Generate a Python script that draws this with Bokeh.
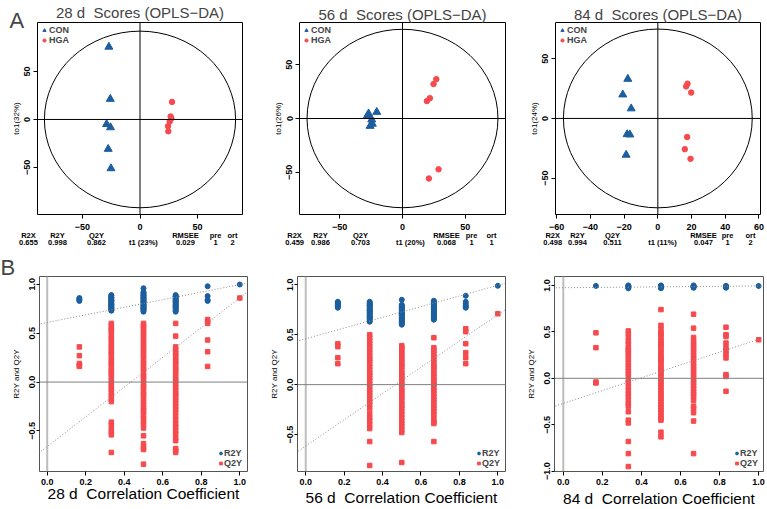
from bokeh.plotting import figure
from bokeh.models import Range1d, Span, Slope, Legend, LegendItem, FixedTicker, LinearAxis, Title
from bokeh.layouts import column, row
from bokeh.embed import file_html
from bokeh.resources import INLINE

BLUE = "#1C5E9E"
RED = "#F64A4E"
FONT = "Liberation Sans"
MINUS = "\u2212"
NBSP = "\u00a0"

# ---------------- Scores (OPLS-DA) data ----------------
days = ["28 d", "56 d", "84 d"]
con_t1 = [
    [-27.0, -25.8, -29.0, -25.6, -27.6, -25.2],
    [-28.0, -27.0, -20.5, -24.5, -25.8, -24.0],
    [-17.8, -20.8, -15.8, -18.2, -16.6, -18.8],
]
con_to1 = [
    [75.6, 21.3, -4.9, -8.3, -30.8, -51.0],
    [2.5, 4.5, 6.0, -1.0, -7.0, -5.0],
    [33.1, 20.0, 8.3, -13.3, -13.6, -30.6],
]
hga_t1 = [
    [27.8, 26.6, 27.2, 25.8, 24.3, 24.6],
    [26.9, 24.7, 21.8, 19.4, 28.7, 21.0],
    [17.6, 16.8, 19.8, 17.4, 16.0, 19.4],
]
hga_to1 = [
    [18.3, 3.1, 1.1, -2.2, -7.0, -12.3],
    [36.6, 32.0, 18.9, 16.2, -47.3, -55.8],
    [29.2, 26.9, 21.7, -15.6, -25.8, -33.9],
]
ellipse_rx = [83, 76, 56]
ellipse_ry = [92, 83, 75]
t1_pct = [23, 20, 11]
to1_pct = [32, 26, 24]
r2x = ["0.655", "0.459", "0.498"]
r2y = ["0.998", "0.986", "0.994"]
q2y = ["0.862", "0.703", "0.511"]
rmsee = ["0.029", "0.068", "0.047"]
pre = ["1", "1", "1"]
ort = ["2", "1", "2"]
score_xticks = [[-50, 0, 50], [-50, 0, 50], [-60, -40, -20, 0, 20, 40, 60]]
score_yticks = [[-50, 0, 50], [-50, 0, 50], [-50, 0, 50]]

# ---------------- Permutation data ----------------
perm_x = [0.167, 0.333, 0.5, 0.667, 0.833, 1.0]
perm_r2y = [
    [  # 28 d
        [0.86, 0.85, 0.84, 0.83],
        [0.89, 0.885, 0.87, 0.865, 0.86, 0.85, 0.84, 0.835, 0.83, 0.82, 0.81, 0.80, 0.795, 0.79, 0.78, 0.77, 0.765, 0.76, 0.75, 0.74, 0.735, 0.73],
        [0.96, 0.92, 0.91, 0.905, 0.89, 0.885, 0.88, 0.87, 0.86, 0.855, 0.85, 0.84, 0.83, 0.825, 0.82, 0.81, 0.80, 0.79, 0.785, 0.78, 0.77, 0.76, 0.755, 0.75, 0.74, 0.73, 0.72],
        [0.89, 0.88, 0.875, 0.87, 0.86, 0.85, 0.84, 0.83, 0.825, 0.82, 0.81, 0.80, 0.79, 0.78, 0.775, 0.77, 0.76, 0.75, 0.74, 0.73, 0.72],
        [0.98, 0.88, 0.84, 0.83],
        [0.998],
    ],
    [  # 56 d
        [0.83, 0.82, 0.81, 0.80, 0.79, 0.78, 0.77],
        [0.83, 0.82, 0.81, 0.80, 0.795, 0.79, 0.78, 0.77, 0.76, 0.75, 0.745, 0.74, 0.73, 0.72, 0.71, 0.70, 0.69, 0.68, 0.675, 0.67, 0.66, 0.65, 0.64, 0.63],
        [0.85, 0.80, 0.79, 0.78, 0.77, 0.765, 0.76, 0.75, 0.74, 0.73, 0.72, 0.71, 0.705, 0.70, 0.69, 0.68, 0.67, 0.66, 0.65, 0.64, 0.63, 0.62, 0.61, 0.60],
        [0.84, 0.83, 0.82, 0.81, 0.80, 0.79, 0.78, 0.775, 0.77, 0.76, 0.75, 0.74, 0.73, 0.72, 0.71, 0.70, 0.69, 0.68, 0.67, 0.66, 0.65],
        [0.89, 0.83, 0.81, 0.79, 0.78, 0.77],
        [0.99],
    ],
    [  # 84 d
        [0.995],
        [1.0, 0.995, 0.99, 0.985, 0.98, 0.975, 0.97],
        [1.0, 0.995, 0.99, 0.985, 0.98, 0.975, 0.97],
        [1.0, 0.995, 0.99, 0.985, 0.98, 0.975],
        [0.995, 0.99, 0.985, 0.98, 0.975],
        [0.994],
    ],
]
perm_q2y = [
    [  # 28 d
        [0.36, 0.27, 0.19, 0.17, 0.16],
        [0.60, 0.58, 0.55, 0.53, 0.51, 0.48, 0.45, 0.43, 0.40, 0.37, 0.35, 0.32, 0.30, 0.28, 0.25, 0.22, 0.20, 0.18, 0.15, 0.12, 0.10, 0.08, 0.05, 0.02, -0.01, -0.03, -0.06, -0.08, -0.11, -0.14, -0.17, -0.20, -0.41, -0.44, -0.48, -0.51, -0.54, -0.72],
        [0.60, 0.58, 0.56, 0.54, 0.51, 0.49, 0.46, 0.44, 0.41, 0.38, 0.36, 0.33, 0.31, 0.28, 0.26, 0.23, 0.20, 0.18, 0.15, 0.13, 0.10, 0.07, 0.05, 0.02, -0.01, -0.04, -0.06, -0.09, -0.12, -0.14, -0.17, -0.20, -0.23, -0.26, -0.29, -0.31, -0.34, -0.37, -0.40, -0.43, -0.47, -0.55, -0.63, -0.67, -0.69, -0.84],
        [0.60, 0.47, 0.36, 0.33, 0.30, 0.28, 0.25, 0.22, 0.20, 0.17, 0.14, 0.12, 0.09, 0.06, 0.03, 0.01, -0.02, -0.05, -0.08, -0.11, -0.13, -0.16, -0.19, -0.22, -0.25, -0.28, -0.31, -0.35, -0.39, -0.43, -0.46, -0.50, -0.53, -0.57, -0.60, -0.68, -0.70, -0.72],
        [0.64, 0.62, 0.60, 0.43, 0.31, 0.16],
        [0.86],
    ],
    [  # 56 d
        [0.41, 0.38, 0.27, 0.21],
        [0.50, 0.47, 0.44, 0.41, 0.38, 0.35, 0.32, 0.29, 0.26, 0.24, 0.21, 0.18, 0.15, 0.12, 0.10, 0.07, 0.04, 0.01, -0.02, -0.05, -0.08, -0.11, -0.14, -0.17, -0.20, -0.24, -0.29, -0.33, -0.36, -0.40, -0.44, -0.57, -0.81],
        [0.39, 0.37, 0.35, 0.32, 0.30, 0.27, 0.25, 0.22, 0.20, 0.18, 0.15, 0.12, 0.10, 0.07, 0.05, 0.02, 0.00, -0.03, -0.06, -0.08, -0.11, -0.13, -0.16, -0.19, -0.21, -0.24, -0.27, -0.30, -0.33, -0.36, -0.39, -0.42, -0.45, -0.48, -0.78],
        [0.47, 0.37, 0.34, 0.31, 0.28, 0.25, 0.22, 0.19, 0.17, 0.14, 0.11, 0.08, 0.05, 0.03, 0.00, -0.03, -0.06, -0.09, -0.12, -0.15, -0.18, -0.21, -0.24, -0.27, -0.30, -0.34, -0.37, -0.39, -0.57],
        [0.56, 0.53, 0.41, 0.32, 0.27, 0.21],
        [0.71],
    ],
    [  # 84 d
        [0.49, 0.33, -0.04, -0.05],
        [0.51, 0.48, 0.44, 0.40, 0.37, 0.33, 0.31, 0.29, 0.26, 0.23, 0.20, 0.17, 0.14, 0.11, 0.08, 0.05, 0.02, -0.02, -0.05, -0.09, -0.13, -0.17, -0.20, -0.24, -0.27, -0.30, -0.36, -0.45, -0.48, -0.68, -0.81, -0.95],
        [0.74, 0.57, 0.53, 0.49, 0.47, 0.44, 0.41, 0.38, 0.36, 0.33, 0.30, 0.27, 0.24, 0.21, 0.19, 0.16, 0.13, 0.10, 0.08, 0.05, 0.02, -0.01, -0.04, -0.07, -0.10, -0.13, -0.16, -0.19, -0.22, -0.25, -0.28, -0.31, -0.34, -0.37, -0.40, -0.43, -0.45, -0.58, -0.63],
        [0.69, 0.54, 0.44, 0.40, 0.37, 0.34, 0.31, 0.28, 0.25, 0.22, 0.19, 0.16, 0.13, 0.10, 0.07, 0.04, 0.01, -0.02, -0.05, -0.08, -0.11, -0.14, -0.17, -0.20, -0.24, -0.30, -0.33, -0.37, -0.46, -0.81],
        [0.55, 0.47, 0.45, 0.38, 0.33, 0.30, 0.26, 0.22, 0.04, 0.02, -0.14],
        [0.415],
    ],
]
# regression lines: intercept at x=0 and value at x=1
r2y_line = [(0.61, 0.998), (0.46, 0.995), (0.975, 0.994)]
q2y_line = [(-0.66, 0.862), (-0.615, 0.70), (-0.27, 0.42)]
perm_xticks = [0.0, 0.2, 0.4, 0.6, 0.8, 1.0]
perm_yticks = [[-0.5, 0.0, 0.5, 1.0], [-0.5, 0.0, 0.5, 1.0], [-1.0, -0.5, 0.0, 0.5, 1.0]]


def fmt(v, nd):
    s = f"{v:.{nd}f}" if nd else f"{int(v)}"
    return s.replace("-", MINUS)


def style_axes(p, xticks, yticks, nd):
    p.xaxis.ticker = FixedTicker(ticks=xticks)
    p.yaxis.ticker = FixedTicker(ticks=yticks)
    p.xaxis.major_label_overrides = {t: fmt(t, nd) for t in xticks}
    p.yaxis.major_label_overrides = {t: fmt(t, nd) for t in yticks}
    for ax in (p.xaxis[0], p.yaxis[0]):
        ax.minor_tick_line_color = None
        ax.major_tick_in = 0
        ax.major_tick_out = 4
        ax.major_tick_line_color = "black"
        ax.axis_line_color = None
        ax.major_label_text_font = FONT
        ax.major_label_text_font_style = "bold"
        ax.major_label_text_font_size = "9px"
        ax.major_label_text_color = "black"
        ax.axis_label_text_font = FONT
        ax.axis_label_text_font_size = "8px"
        ax.axis_label_text_font_style = "normal"
        ax.axis_label_text_color = "black"
    p.yaxis.major_label_orientation = "vertical"
    p.xaxis.major_label_standoff = 5
    p.yaxis.major_label_standoff = 3
    p.grid.visible = False


def text_axis(ticks, labels, standoff):
    ax = LinearAxis(ticker=FixedTicker(ticks=ticks),
                    major_label_overrides=dict(zip(ticks, labels)),
                    major_tick_in=0, major_tick_out=0, major_tick_line_color=None,
                    minor_tick_line_color=None, axis_line_color=None,
                    major_label_standoff=standoff,
                    major_label_text_font=FONT, major_label_text_font_size="7.5px",
                    major_label_text_font_style="bold", major_label_text_color="black")
    return ax


def scores_fig(i, w, h, bl, br, bt, bb, xr, yr, head_px, val_px, pad, letter=None):
    p = figure(width=w, height=h, x_range=Range1d(*xr), y_range=Range1d(*yr),
               output_backend="svg", toolbar_location=None,
               min_border_left=bl, min_border_right=br, min_border_top=bt, min_border_bottom=bb)
    style_axes(p, score_xticks[i], score_yticks[i], 0)
    p.outline_line_color = "black"
    p.outline_line_width = 1
    p.yaxis.axis_label = f"to1({to1_pct[i]}%)"
    p.yaxis.axis_label_standoff = 1
    p.title.text = f"{days[i]}{NBSP} Scores (OPLS{MINUS}DA)"
    p.title.align = "center"
    p.title.text_font = FONT
    p.title.text_font_size = "15px"
    p.title.text_font_style = "normal"
    p.title.standoff = -3 if letter else 0
    p.ellipse(x=[0], y=[0], width=[2 * ellipse_rx[i]], height=[2 * ellipse_ry[i]],
              fill_alpha=0, line_color="black", line_width=1)
    p.add_layout(Span(location=0, dimension="width", line_color="black", line_width=1))
    p.add_layout(Span(location=0, dimension="height", line_color="black", line_width=1))
    rc = p.scatter(con_t1[i], con_to1[i], marker="triangle", size=8, color=BLUE)
    rh = p.scatter(hga_t1[i], hga_to1[i], marker="circle", size=5.5, color=RED)
    leg = Legend(items=[LegendItem(label="CON", renderers=[rc]), LegendItem(label="HGA", renderers=[rh])],
                 location="top_left", border_line_alpha=0, background_fill_alpha=0,
                 label_text_font=FONT, label_text_font_size="9px", label_text_font_style="bold",
                 glyph_height=8, glyph_width=8, label_height=8, label_standoff=1, spacing=0,
                 padding=1, margin=2)
    p.add_layout(leg)
    fw = w - bl - br
    sx = (xr[1] - xr[0]) / fw
    # model statistics printed under the score plot (two text rows)
    heads = ["R2X", "R2Y", "Q2Y", "RMSEE", "pre", "ort"]
    vals = [r2x[i], r2y[i], q2y[i], f"t1 ({t1_pct[i]}%)", rmsee[i], pre[i], ort[i]]
    heads = [heads[0] + NBSP * pad] + heads[1:]
    vals = [vals[0] + NBSP * pad] + vals[1:]
    hticks = [round(xr[0] + px * sx, 3) for px in head_px]
    vticks = [round(xr[0] + px * sx, 3) for px in val_px]
    p.add_layout(text_axis(hticks, heads, -2), "below")
    p.add_layout(text_axis(vticks, vals, -5), "below")
    if letter:
        p.add_layout(Title(text=letter, align="left", offset=-(bl - 9), standoff=-24,
                           vertical_align="top",
                           text_font=FONT, text_font_size="22px", text_font_style="normal"),
                     "above")
    return p


def perm_fig(i, w, h, bl, br, bt, bb, xr, yr, lab_standoff, letter=None):
    p = figure(width=w, height=h, x_range=Range1d(*xr), y_range=Range1d(*yr),
               output_backend="svg", toolbar_location=None,
               min_border_left=bl, min_border_right=br, min_border_top=bt, min_border_bottom=bb)
    style_axes(p, perm_xticks, perm_yticks[i], 1)
    p.outline_line_color = "#555555"
    p.outline_line_width = 1
    p.yaxis.axis_label = "R2Y and Q2Y"
    p.yaxis.axis_label_standoff = 6
    p.yaxis.major_label_standoff = 1
    p.yaxis.major_tick_out = 3
    p.xaxis.major_label_standoff = 3
    p.xaxis.axis_label = f"{days[i]}{NBSP} Correlation Coefficient"
    p.xaxis.axis_label_text_font_size = "15.5px"
    p.xaxis.axis_label_standoff = lab_standoff
    p.add_layout(Span(location=0, dimension="height", line_color="#BDBDBD", line_width=2))
    p.add_layout(Span(location=0, dimension="width", line_color="#7F7F7F", line_width=1))
    b0, v1 = r2y_line[i]
    p.add_layout(Slope(gradient=v1 - b0, y_intercept=b0, line_color="#8C8C8C",
                       line_width=1, line_dash="1 2"))
    b0, v1 = q2y_line[i]
    p.add_layout(Slope(gradient=v1 - b0, y_intercept=b0, line_color="#8C8C8C",
                       line_width=1, line_dash="1 2"))
    rx, ry, qx, qy = [], [], [], []
    for xv, col in zip(perm_x, perm_r2y[i]):
        rx += [xv] * len(col)
        ry += col
    for xv, col in zip(perm_x, perm_q2y[i]):
        qx += [xv] * len(col)
        qy += col
    rr = p.scatter(rx, ry, marker="circle", size=5, color=BLUE)
    rq = p.scatter(qx, qy, marker="square", size=4.5, color=RED)
    leg = Legend(items=[LegendItem(label="R2Y", renderers=[rr]), LegendItem(label="Q2Y", renderers=[rq])],
                 location="bottom_right", border_line_alpha=0, background_fill_alpha=0,
                 label_text_font=FONT, label_text_font_size="9px", label_text_font_style="bold",
                 glyph_height=8, glyph_width=7, label_height=8, label_standoff=0, spacing=0,
                 padding=1, margin=2)
    p.add_layout(leg)
    if letter:
        p.title.text = letter
        p.title.align = "left"
        p.title.offset = -bl
        p.title.text_font = FONT
        p.title.text_font_size = "22px"
        p.title.text_font_style = "normal"
        p.title.standoff = -7
    return p


# stat text columns: x offsets (px from frame left) of header and value rows
a1 = scores_fig(0, 260, 250, 37, 18, 19, 33, (-89, 89), (-99, 101),
                [0.3, 20, 59, 148, 178, 195], [0.3, 20, 59, 106, 148, 178, 195], 9, letter="A")
a2 = scores_fig(1, 260, 250, 39, 15, 19, 36, (-82, 82), (-89.3, 89.3),
                [0.3, 21, 61, 147, 172, 192], [0.3, 21, 61, 111, 147, 172, 192], 5)
a3 = scores_fig(2, 247, 250, 35, 7, 22, 35, (-60.7, 60.9), (-80.6, 80.5),
                [0.3, 22, 57, 148, 172, 195], [0.3, 22, 57, 107, 148, 172, 195], 3)
b1 = perm_fig(0, 260, 259, 39, 13, 26, 33, (-0.04, 1.04), (-0.915, 1.08), -3, letter="B")
b2 = perm_fig(1, 260, 259, 37, 15, 23, 37, (-0.043, 1.04), (-0.87, 1.083), 1)
b3 = perm_fig(2, 247, 259, 34, 4, 23, 38, (-0.045, 1.025), (-1.003, 1.096), 2)

layout = column(row(a1, a2, a3), row(b1, b2, b3))
open("out.html", "w").write(file_html(layout, INLINE))
